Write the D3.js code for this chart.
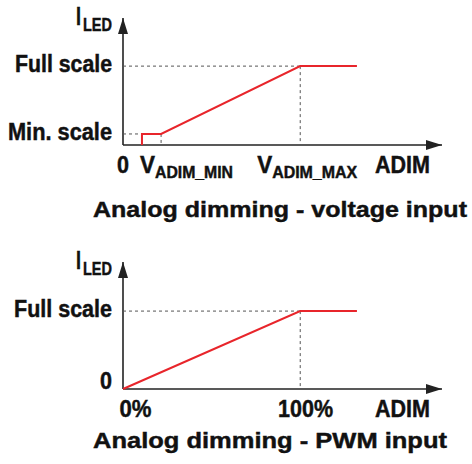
<!DOCTYPE html>
<html>
<head>
<meta charset="utf-8">
<script src="https://cdn.jsdelivr.net/npm/d3@7"></script>
<style>
  body { margin: 0; background: #fff; }
  svg text { font-family: "Liberation Sans", Arial, sans-serif; font-weight: bold; fill: #111; stroke: #111; stroke-width: 0.45; }
  .axis-line { stroke: #222; stroke-width: 1.6; fill: none; }
  .guide { stroke: #555; stroke-width: 1; stroke-dasharray: 3,3; fill: none; }
  .curve { stroke: #e8252b; stroke-width: 2; fill: none; }
</style>
</head>
<body>
<svg id="chart" width="472" height="464"></svg>
<script>
// Voltage input panel: ADIM (relative to V_ADIM_MAX) vs I_LED (relative to full scale)
const voltageX = [0.107, 0.107, 0.215, 1.0, 1.32];
const voltageY = [0, 0.14, 0.14, 1.0, 1.0];
const voltageYTicks = [{ v: 1.0, label: "Full scale", w: 97 }, { v: 0.14, label: "Min. scale", w: 104 }];
const voltageXTicks = [
    { v: 0, label: "0", w: 12 },
    { v: 0.096, label: "V", sub: "ADIM_MIN", w: 15, sw: 78 },
    { v: 0.757, label: "V", sub: "ADIM_MAX", w: 15, sw: 85 }
];

// PWM input panel: duty (%) vs I_LED (relative to full scale)
const pwmX = [0, 100, 132];
const pwmY = [0, 1.0, 1.0];
const pwmYTicks = [{ v: 1.0, label: "Full scale", w: 98 }, { v: 0, label: "0", w: 12 }];
const pwmXTicks = [{ v: -2, label: "0%", w: 32 }, { v: 87.5, label: "100%", w: 55 }];

const svg = d3.select("#chart");

svg.append("defs").append("marker")
    .attr("id", "arrow")
    .attr("viewBox", "0 0 16 10")
    .attr("refX", 16).attr("refY", 5)
    .attr("markerWidth", 16).attr("markerHeight", 10)
    .attr("markerUnits", "userSpaceOnUse")
    .attr("orient", "auto")
  .append("path")
    .attr("d", "M0,0L16,5L0,10Z")
    .attr("fill", "#222");

// text squeezed/stretched to the width measured on the original
function label(g, x, y, str, size, anchor, len) {
    const t = g.append("text")
        .attr("x", x).attr("y", y)
        .attr("text-anchor", anchor)
        .attr("font-size", size)
        .text(str);
    if (len) t.attr("textLength", len).attr("lengthAdjust", "spacingAndGlyphs");
    return t;
}

function drawPanel(cfg) {
    const g = svg.append("g");
    const x = d3.scaleLinear().domain(cfg.xDomain).range([123, 442]);
    const y = d3.scaleLinear().domain(cfg.yDomain).range(cfg.yRange);
    const x0 = x(0), y0 = y(0);

    // axes with arrows
    g.append("line").attr("class", "axis-line")
        .attr("x1", x0).attr("y1", y0).attr("x2", x0).attr("y2", y(cfg.yDomain[1]))
        .attr("marker-end", "url(#arrow)");
    g.append("line").attr("class", "axis-line")
        .attr("x1", x0).attr("y1", y0).attr("x2", x(cfg.xDomain[1])).attr("y2", y0)
        .attr("marker-end", "url(#arrow)");

    // dashed guides
    cfg.guides.forEach(gd => {
        g.append("line").attr("class", "guide")
            .attr("x1", x0).attr("y1", y(gd.y)).attr("x2", x(gd.x)).attr("y2", y(gd.y));
        g.append("line").attr("class", "guide")
            .attr("x1", x(gd.x)).attr("y1", y(gd.y)).attr("x2", x(gd.x)).attr("y2", y0);
    });

    const line = d3.line().x(d => x(d[0])).y(d => y(d[1]));
    g.append("path").attr("class", "curve")
        .attr("d", line(d3.zip(cfg.xs, cfg.ys)));

    // y tick labels
    cfg.yTicks.forEach(t => {
        label(g, 112, y(t.v) + (t.v === 0 ? 0 : 6), t.label, 23, "end", t.w);
    });

    // I_LED
    const top = y(cfg.yDomain[1]);
    label(g, 76, top + 7, "I", 25, "start", 5);
    label(g, 83, top + 13, "LED", 18, "start", 29);

    // x tick labels
    cfg.xTicks.forEach(t => {
        if (t.sub) {
            label(g, x(t.v), y0 + 28, t.label, 23, "start", t.w);
            label(g, x(t.v) + t.w, y0 + 33, t.sub, 16, "start", t.sw);
        } else {
            label(g, x(t.v), y0 + 28, t.label, 23, t.v === 0 ? "middle" : "start", t.w);
        }
    });

    label(g, 375, y0 + 28, "ADIM", 23, "start", 55);
    label(g, 93, cfg.titleY, cfg.title, 22.5, "start", cfg.titleW);
}

drawPanel({
    xDomain: [0, 1.8], yDomain: [0, 1.61], yRange: [145, 18],
    xs: voltageX, ys: voltageY, yTicks: voltageYTicks, xTicks: voltageXTicks,
    guides: [{ x: 1.0, y: 1.0 }, { x: 0.215, y: 0.14 }],
    title: "Analog dimming - voltage input", titleY: 217, titleW: 374
});

drawPanel({
    xDomain: [0, 180], yDomain: [0, 1.63], yRange: [389, 262],
    xs: pwmX, ys: pwmY, yTicks: pwmYTicks, xTicks: pwmXTicks,
    guides: [{ x: 100, y: 1.0 }],
    title: "Analog dimming - PWM input", titleY: 448, titleW: 354
});
</script>
</body>
</html>
